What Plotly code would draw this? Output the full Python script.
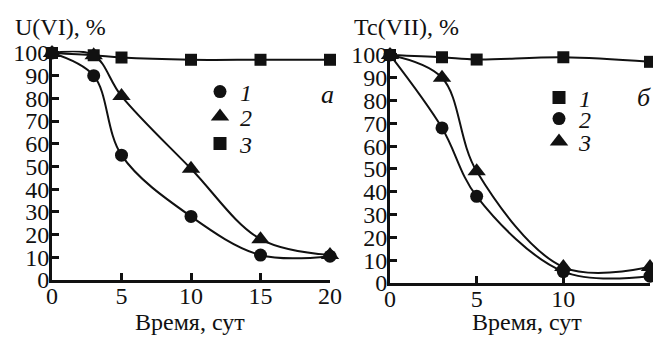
import plotly.graph_objects as go

# Left panel: U(VI)
t_u = [0, 3, 5, 10, 15, 20]
u_1 = [100, 90, 55, 28, 11, 10.5]
u_2 = [100, 99, 81, 49, 18, 11]
u_3 = [100, 99, 98, 97, 97, 97]

# Right panel: Tc(VII)
t_tc = [0, 3, 5, 10, 15]
tc_1 = [100, 99, 98, 99, 97]
tc_2 = [100, 68, 38, 5, 3]
tc_3 = [100, 90, 49, 7, 7]

x_ticks_u = [0, 5, 10, 15, 20]
x_ticks_tc = [0, 5, 10, 15]
y_ticks = [0, 10, 20, 30, 40, 50, 60, 70, 80, 90, 100]

FONT = "'Liberation Serif', 'Times New Roman', 'DejaVu Serif', serif"
BLACK = "#111111"
FS = 24

fig = go.Figure()

def add_series(x, y, symbol, size, xa, ya):
    fig.add_trace(go.Scatter(
        x=x, y=y, mode="lines+markers", xaxis=xa, yaxis=ya,
        line=dict(color=BLACK, width=2, shape="spline", smoothing=1.0),
        marker=dict(symbol=symbol, size=size, color=BLACK),
        showlegend=False, cliponaxis=False))

def add_legend(name, symbol, size, legend):
    fig.add_trace(go.Scatter(
        x=[None], y=[None], mode="markers", name=name, legend=legend,
        marker=dict(symbol=symbol, size=size, color=BLACK)))

add_series(t_u, u_1, "circle", 13, "x", "y")
add_series(t_u, u_2, "triangle-up", 16, "x", "y")
add_series(t_u, u_3, "square", 12, "x", "y")
add_series(t_tc, tc_1, "square", 12, "x2", "y2")
add_series(t_tc, tc_2, "circle", 13, "x2", "y2")
add_series(t_tc, tc_3, "triangle-up", 16, "x2", "y2")

add_legend("<i>1</i>", "circle", 13, "legend")
add_legend("<i>2</i>", "triangle-up", 16, "legend2")
add_legend("<i>3</i>", "square", 13, "legend3")
add_legend("<i>1</i>", "square", 13, "legend4")
add_legend("<i>2</i>", "circle", 13, "legend5")
add_legend("<i>3</i>", "triangle-up", 16, "legend6")

# page body has an 8px margin; figure coordinates are offset accordingly
W, H = 653, 329

axis_common = dict(showgrid=False, zeroline=False, showline=True, automargin=False,
                   linecolor=BLACK, linewidth=3, ticks="inside", ticklen=7,
                   tickwidth=3, tickcolor=BLACK,
                   tickfont=dict(family=FONT, size=FS, color=BLACK))

def leg(x, y):
    return dict(x=x / W, y=1 - y / H, xanchor="left", yanchor="middle",
                bgcolor="rgba(0,0,0,0)", borderwidth=0,
                font=dict(family=FONT, size=FS, color=BLACK))

def ann(text, x, y, xanchor="center", size=FS):
    return dict(text=text, x=x / W, y=1 - y / H, xref="paper", yref="paper",
                xanchor=xanchor, yanchor="middle", showarrow=False,
                font=dict(family=FONT, size=size, color=BLACK))

fig.update_layout(
    width=W, height=H, margin=dict(l=0, r=0, t=0, b=0),
    paper_bgcolor="white", plot_bgcolor="white",
    xaxis=dict(domain=[44 / W, 322 / W], range=[0, 20], tickvals=x_ticks_u,
               anchor="y", ticklabelstandoff=-8, **axis_common),
    yaxis=dict(domain=[1 - 272 / H, 1 - 42.7 / H], range=[0, 101], tickvals=y_ticks,
               anchor="x", ticklabelstandoff=-5, **axis_common),
    xaxis2=dict(domain=[382 / W, 642 / W], range=[0, 15], tickvals=x_ticks_tc,
                anchor="y2", ticklabelstandoff=-8, **axis_common),
    yaxis2=dict(domain=[1 - 275 / H, 1 - 44.7 / H], range=[0, 101], tickvals=y_ticks,
                anchor="x2", ticklabelstandoff=-5, **axis_common),
    legend=leg(192, 84),
    legend2=leg(192, 109),
    legend3=leg(192, 136),
    legend4=leg(531, 90),
    legend5=leg(531, 111),
    legend6=leg(531, 134),
    annotations=[
        ann("U(VI), %", 5, 19, "left"),
        ann("Tc(VII), %", 344, 19, "left"),
        ann("Время, сут", 182, 314),
        ann("Время, сут", 519, 314),
        ann("<i>а</i>", 319, 87, size=26),
        ann("<i>б</i>", 645, 89, "right", size=26),
    ],
)

fig.write_html("out.html")
